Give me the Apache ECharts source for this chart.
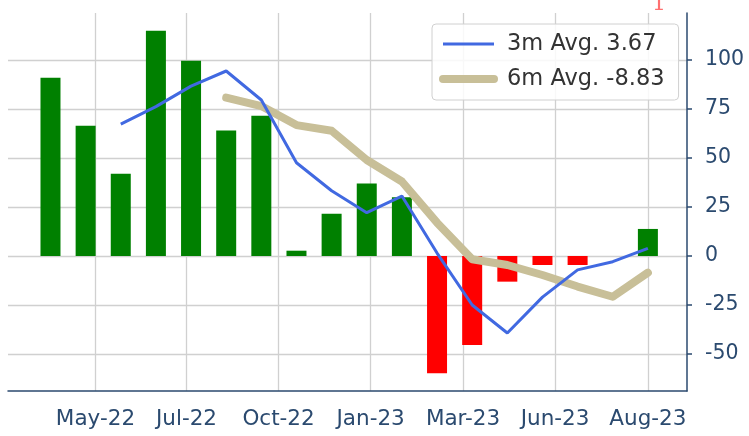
<!DOCTYPE html>
<html>
<head>
<meta charset="utf-8">
<script src="https://cdn.jsdelivr.net/npm/echarts@6/dist/echarts.min.js"></script>
<style>
  html, body { margin: 0; padding: 0; background: #fff; }
  #avg-chart { width: 749px; height: 436px; }
</style>
</head>
<body>
<div id="avg-chart"></div>
<script>
// monthly values, index 0 = Mar-22 ... 17 = Aug-23
var month_values = [91, 66.5, 42, 115, 99.6, 64, 71.6, 2.7, 21.6, 37, 30, -59.8, -45.4, -13.1, -4.6, -4.6, 0, 13.8];
var avg3_start = 2;
var avg3_values = [67.3, 76.2, 86.7, 94.4, 79.6, 47.6, 33.3, 22.1, 30.6, 1.5, -25, -39.3, -21, -7.1, -2.9, 3.9];
var avg6_start = 5;
var avg6_values = [80.8, 76.5, 66.8, 63.9, 49, 38, 17, -1.7, -4.6, -9.7, -15.6, -20.8, -8.5];
var avg3_label = '3m Avg. 3.67';
var avg6_label = '6m Avg. -8.83';
var x_tick_pos = [1.28, 3.87, 6.49, 9.11, 11.74, 14.36, 17];
var x_tick_labels = ['May-22', 'Jul-22', 'Oct-22', 'Jan-23', 'Mar-23', 'Jun-23', 'Aug-23'];
var y_ticks = [-50, -25, 0, 25, 50, 75, 100];

var axis_color = '#2b4a6f';
var avg3_color = '#4169e1';
var avg6_color = '#c8bf98';
var chart = echarts.init(document.getElementById('avg-chart'));

function pairs(start, values) {
    return values.map(function (v, i) { return [start + i, v]; });
}

var bar_data = month_values.map(function (v, i) {
    return {
        value: [i, v],
        itemStyle: { color: v < 0 ? '#ff0000' : '#008000' }
    };
});

var options = {
    animation: false,
    textStyle: { fontFamily: 'DejaVu Sans' },
    grid: { left: 8, right: 62, top: 13, bottom: 45 },
    legend: {
        orient: 'vertical',
        left: 432,
        top: 24,
        padding: [7, 14, 8, 7],
        itemGap: 9,
        itemWidth: 51,
        itemHeight: 14,
        borderColor: '#d0d0d0',
        borderWidth: 1,
        borderRadius: 4,
        backgroundColor: 'rgba(255,255,255,0.85)',
        itemStyle: { opacity: 0 },
        textStyle: { fontSize: 22.5, color: '#333', lineHeight: 26, padding: [0, 0, 0, 8] },
        data: [
            { name: avg3_label, lineStyle: { width: 3, color: avg3_color } },
            { name: avg6_label, lineStyle: { width: 8, color: avg6_color, cap: 'round' } }
        ]
    },
    xAxis: {
        type: 'value',
        min: -1.209,
        max: 18.113,
        axisLine: { show: true, onZero: false, lineStyle: { color: axis_color, width: 1.5 } },
        axisTick: { show: false, customValues: x_tick_pos },
        axisLabel: {
            customValues: x_tick_pos,
            color: axis_color,
            fontSize: 21.5,
            margin: 17,
            formatter: function (v) {
                for (var i = 0; i < x_tick_pos.length; i++) {
                    if (Math.abs(x_tick_pos[i] - v) < 0.01) return x_tick_labels[i];
                }
                return '';
            }
        },
        splitLine: { show: true, lineStyle: { color: '#d0d0d0', width: 1.3 } }
    },
    yAxis: {
        type: 'value',
        position: 'right',
        min: -68.9,
        max: 124,
        axisLine: { show: true, onZero: false, lineStyle: { color: axis_color, width: 1.5 } },
        axisTick: { show: true, length: 5, customValues: y_ticks, lineStyle: { color: axis_color, width: 1.5 } },
        axisLabel: { customValues: y_ticks, color: axis_color, fontSize: 20.5, margin: 18, align: 'left' },
        splitLine: { show: true, lineStyle: { color: '#d0d0d0', width: 1.3 } }
    },
    series: [
        {
            name: 'monthly',
            type: 'bar',
            barWidth: 20,
            z: 2,
            data: bar_data
        },
        {
            name: avg3_label,
            type: 'line',
            symbol: 'none',
            z: 4,
            color: avg3_color,
            lineStyle: { width: 3, color: avg3_color },
            data: pairs(avg3_start, avg3_values)
        },
        {
            name: avg6_label,
            type: 'line',
            symbol: 'none',
            z: 3,
            color: avg6_color,
            lineStyle: { width: 8, color: avg6_color, cap: 'round', join: 'round' },
            data: pairs(avg6_start, avg6_values)
        }
    ],
    graphic: [
        {
            type: 'text',
            left: 652,
            top: -7,
            style: { text: '1', fill: '#ff7070', font: '22px "DejaVu Serif"' }
        }
    ]
};

chart.setOption(options);
</script>
</body>
</html>
